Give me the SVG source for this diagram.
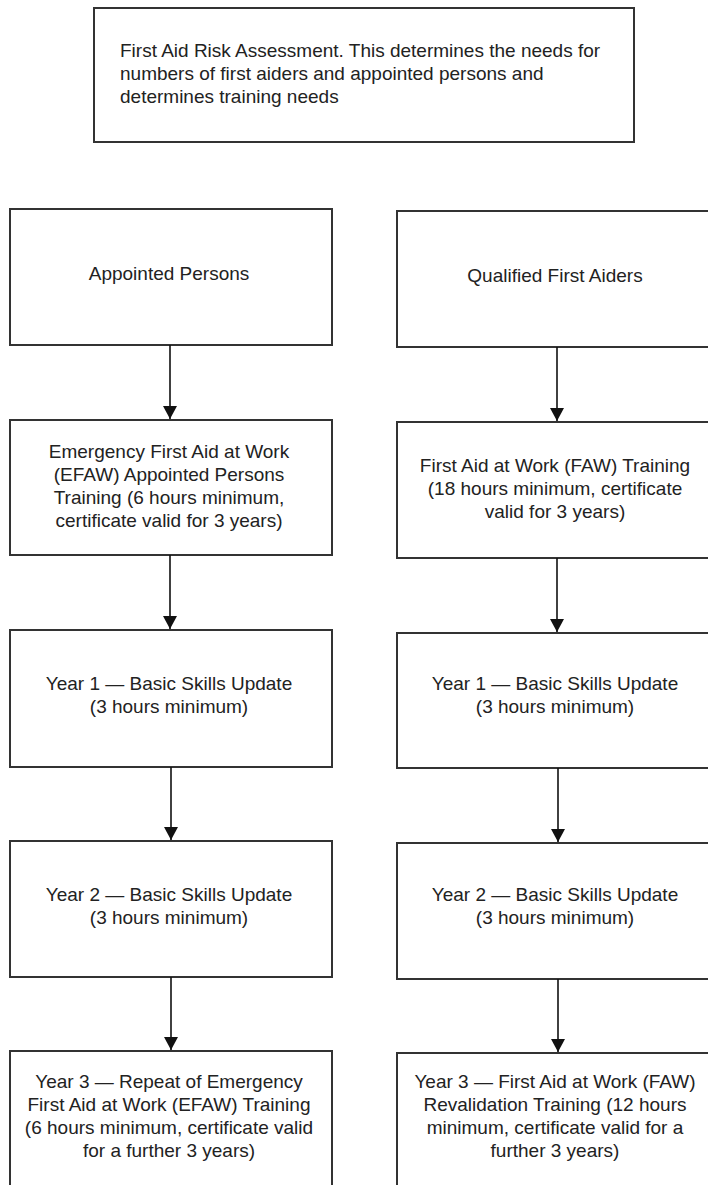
<svg xmlns="http://www.w3.org/2000/svg" width="708" height="1185" viewBox="0 0 708 1185">
<style>
.box{fill:#fff;stroke:#333;stroke-width:2}
.t{font-family:"Liberation Sans",Arial,sans-serif;font-size:19px;fill:#222}
.c{text-anchor:middle}
.conn{stroke:#111;stroke-width:1.6;fill:none;marker-end:url(#ah)}
</style>
<defs>
<marker id="ah" markerUnits="userSpaceOnUse" markerWidth="14" markerHeight="14" viewBox="0 0 14 14" refX="13" refY="7" orient="auto">
<path d="M0,0 L13,7 L0,14 Z" fill="#111"/>
</marker>
</defs>
<rect width="708" height="1185" fill="#fff"/>
<g id="risk">
<rect class="box" x="94" y="8" width="540" height="134"/>
<text class="t" x="120" y="57">First Aid Risk Assessment. This determines the needs for</text>
<text class="t" x="120" y="80">numbers of first aiders and appointed persons and</text>
<text class="t" x="120" y="103">determines training needs</text>
</g>
<g id="ap">
<rect class="box" x="10" y="209" width="322" height="136"/>
<text class="t c" x="169" y="280">Appointed Persons</text>
</g>
<g id="efaw">
<rect class="box" x="10" y="420" width="322" height="135"/>
<text class="t c" x="169" y="458">Emergency First Aid at Work</text>
<text class="t c" x="169" y="481">(EFAW) Appointed Persons</text>
<text class="t c" x="169" y="504">Training (6 hours minimum,</text>
<text class="t c" x="169" y="527">certificate valid for 3 years)</text>
</g>
<g id="ap1">
<rect class="box" x="10" y="630" width="322" height="137"/>
<text class="t c" x="169" y="690">Year 1 — Basic Skills Update</text>
<text class="t c" x="169" y="713">(3 hours minimum)</text>
</g>
<g id="ap2">
<rect class="box" x="10" y="841" width="322" height="136"/>
<text class="t c" x="169" y="901">Year 2 — Basic Skills Update</text>
<text class="t c" x="169" y="924">(3 hours minimum)</text>
</g>
<g id="ap3">
<rect class="box" x="10" y="1051" width="322" height="136"/>
<text class="t c" x="169" y="1088">Year 3 — Repeat of Emergency</text>
<text class="t c" x="169" y="1111">First Aid at Work (EFAW) Training</text>
<text class="t c" x="169" y="1134">(6 hours minimum, certificate valid</text>
<text class="t c" x="169" y="1157">for a further 3 years)</text>
</g>
<g id="qfa">
<rect class="box" x="397" y="211" width="321" height="136"/>
<text class="t c" x="555" y="282">Qualified First Aiders</text>
</g>
<g id="faw">
<rect class="box" x="397" y="422" width="321" height="136"/>
<text class="t c" x="555" y="472">First Aid at Work (FAW) Training</text>
<text class="t c" x="555" y="495">(18 hours minimum, certificate</text>
<text class="t c" x="555" y="518">valid for 3 years)</text>
</g>
<g id="qfa1">
<rect class="box" x="397" y="633" width="321" height="135"/>
<text class="t c" x="555" y="690">Year 1 — Basic Skills Update</text>
<text class="t c" x="555" y="713">(3 hours minimum)</text>
</g>
<g id="qfa2">
<rect class="box" x="397" y="843" width="321" height="136"/>
<text class="t c" x="555" y="901">Year 2 — Basic Skills Update</text>
<text class="t c" x="555" y="924">(3 hours minimum)</text>
</g>
<g id="qfa3">
<rect class="box" x="397" y="1053" width="321" height="136"/>
<text class="t c" x="555" y="1088">Year 3 — First Aid at Work (FAW)</text>
<text class="t c" x="555" y="1111">Revalidation Training (12 hours</text>
<text class="t c" x="555" y="1134">minimum, certificate valid for a</text>
<text class="t c" x="555" y="1157">further 3 years)</text>
</g>
<g id="connectors">
<line class="conn" x1="170" y1="345" x2="170" y2="419"/>
<line class="conn" x1="170" y1="555" x2="170" y2="629"/>
<line class="conn" x1="171" y1="767" x2="171" y2="840"/>
<line class="conn" x1="171" y1="977" x2="171" y2="1050"/>
<line class="conn" x1="557" y1="347" x2="557" y2="421"/>
<line class="conn" x1="557" y1="558" x2="557" y2="632"/>
<line class="conn" x1="558" y1="768" x2="558" y2="842"/>
<line class="conn" x1="558" y1="979" x2="558" y2="1052"/>
</g>
</svg>
